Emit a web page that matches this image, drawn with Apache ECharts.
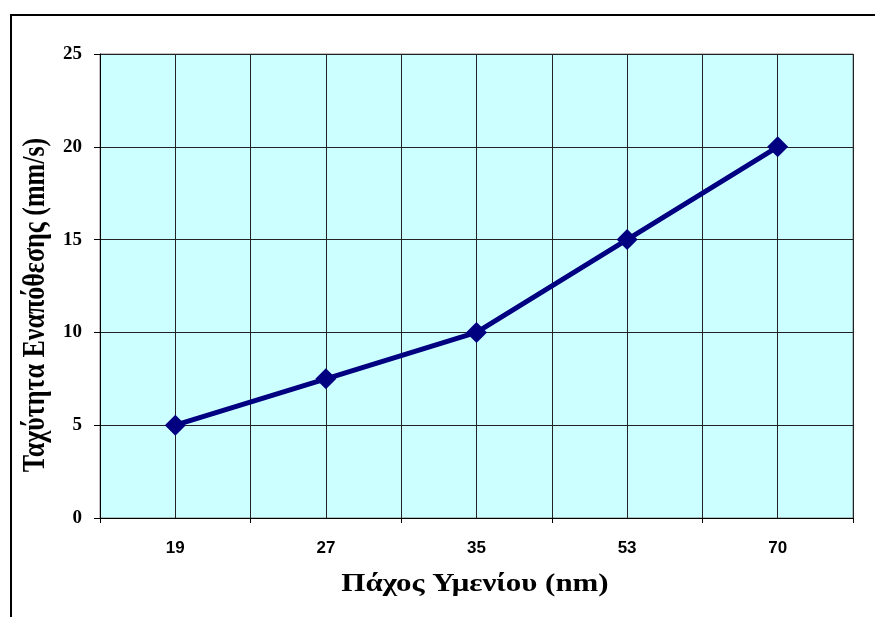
<!DOCTYPE html>
<html>
<head>
<meta charset="utf-8">
<script src="https://cdn.jsdelivr.net/npm/echarts@6/dist/echarts.min.js"></script>
<style>
html,body{margin:0;padding:0;background:#fff;}
#c{width:875px;height:617px;}
</style>
</head>
<body>
<div id="c"></div>
<script>
var categories = ['19', '27', '35', '53', '70'];
var speedValues = [5, 7.5, 10, 15, 20];
var yTicks = {min: 0, max: 25, interval: 5};
var xTitle = 'Πάχος Υμενίου (nm)';
var yTitle = 'Ταχύτητα Εναπόθεσης (mm/s)';

var halfSlots = [];
for (var i = 0; i < categories.length * 2; i++) halfSlots.push('');

var chart = echarts.init(document.getElementById('c'), null, {renderer: 'canvas'});
chart.setOption({
  animation: false,
  backgroundColor: '#ffffff',
  grid: {
    left: 100, right: 22, top: 54, bottom: 99,
    show: true, backgroundColor: '#CCFFFF', borderColor: '#808080', borderWidth: 1
  },
  xAxis: [{
    type: 'category',
    data: categories,
    boundaryGap: true,
    axisLine: {show: true, lineStyle: {color: '#000', width: 1}},
    axisTick: {show: true, alignWithLabel: false, length: 5, inside: false, lineStyle: {color: '#000'}},
    axisLabel: {margin: 22, color: '#000', fontFamily: '"Liberation Sans", Arial, sans-serif', fontWeight: 'bold', fontSize: 17},
    splitLine: {show: false}
  }, {
    type: 'category',
    data: halfSlots,
    position: 'bottom',
    boundaryGap: true,
    axisLine: {show: false},
    axisTick: {show: false},
    axisLabel: {show: false},
    splitLine: {show: true, lineStyle: {color: '#222', width: 1}}
  }],
  yAxis: {
    type: 'value',
    min: yTicks.min, max: yTicks.max, interval: yTicks.interval,
    axisLine: {show: true, lineStyle: {color: '#000', width: 1}},
    axisTick: {show: true, length: 6, inside: false, lineStyle: {color: '#000'}},
    axisLabel: {margin: 18, color: '#000', fontFamily: '"Liberation Serif", "Times New Roman", serif', fontWeight: 'bold', fontSize: 19},
    splitLine: {show: true, lineStyle: {color: '#222', width: 1}}
  },
  series: [{
    type: 'line',
    xAxisIndex: 0,
    data: speedValues,
    symbol: 'diamond',
    symbolSize: 21,
    lineStyle: {color: '#000080', width: 5},
    itemStyle: {color: '#000080'},
    z: 5
  }],
  graphic: [
    {type: 'rect', shape: {x: 11, y: 15, width: 900, height: 700}, style: {fill: null, stroke: '#000', lineWidth: 2}, z: 10},
    {type: 'text', x: 475, y: 584, scaleX: 1.19, style: {text: xTitle, fill: '#000', font: 'bold 26px "Liberation Serif", "Times New Roman", serif', textAlign: 'center', textVerticalAlign: 'middle'}},
    {type: 'text', x: 36, y: 305, rotation: Math.PI / 2, scaleY: 1.2, style: {text: yTitle, fill: '#000', font: 'bold 26px "Liberation Serif", "Times New Roman", serif', textAlign: 'center', textVerticalAlign: 'middle'}}
  ]
});
</script>
</body>
</html>
